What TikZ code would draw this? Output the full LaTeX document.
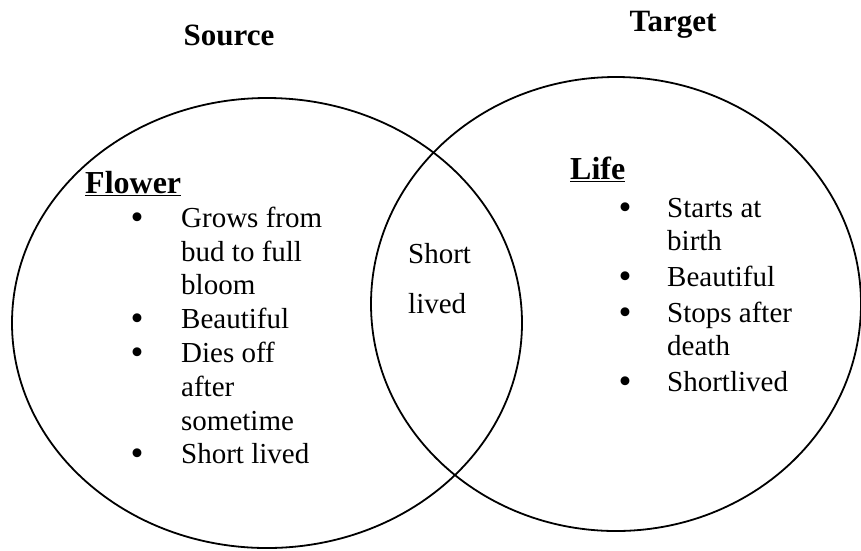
\documentclass[tikz,border=0pt]{standalone}
\usepackage{fontspec}
\setmainfont{Liberation Serif}
\begin{document}
\begin{tikzpicture}[x=1pt,y=-1pt,
  ring/.style={draw=black,line width=1.8pt},
  body/.style={anchor=base west,inner sep=0pt,font=\fontsize{29}{33}\selectfont},
  head/.style={anchor=base west,inner sep=0pt,font=\fontsize{32}{36}\selectfont\bfseries},
  title/.style={anchor=base,inner sep=0pt,font=\fontsize{31}{36}\selectfont\bfseries},
  dot/.style={anchor=base,inner sep=0pt,font=\fontsize{37}{40}\selectfont}]
\useasboundingbox (0,0) rectangle (861,550);

% the two overlapping sets
\draw[ring] (267,323) ellipse [x radius=255, y radius=225];
\draw[ring] (616,304) ellipse [x radius=245, y radius=227];

% titles
\node[title] (src) at (229,45) {Source};
\node[title] (tgt) at (673,31) {Target};

% source set: Flower
\node[head] (flower) at (85,193) {\underline{Flower}};
\node[dot] (fb1) at (137,229) {\smash{•}};
\node[body] (f1a) at (181,227) {Grows from};
\node[body] (f1b) at (181,261) {bud to full};
\node[body] (f1c) at (181,294) {bloom};
\node[dot] (fb2) at (137,330) {\smash{•}};
\node[body] (f2) at (181,328) {Beautiful};
\node[dot] (fb3) at (137,364) {\smash{•}};
\node[body] (f3a) at (181,362) {Dies off};
\node[body] (f3b) at (181,396) {after};
\node[body] (f3c) at (181,430) {sometime};
\node[dot] (fb4) at (137,465) {\smash{•}};
\node[body] (f4) at (181,463) {Short lived};

% shared region
\node[body] (m1) at (408,263) {Short};
\node[body] (m2) at (408,313) {lived};

% target set: Life
\node[head] (life) at (570,179) {\underline{Life}};
\node[dot] (lb1) at (625,219) {\smash{•}};
\node[body] (l1a) at (667,217) {Starts at};
\node[body] (l1b) at (667,250) {birth};
\node[dot] (lb2) at (625,288) {\smash{•}};
\node[body] (l2) at (667,286) {Beautiful};
\node[dot] (lb3) at (625,324) {\smash{•}};
\node[body] (l3a) at (667,322) {Stops after};
\node[body] (l3b) at (667,355) {death};
\node[dot] (lb4) at (625,393) {\smash{•}};
\node[body] (l4) at (667,391) {Shortlived};
\end{tikzpicture}
\end{document}
